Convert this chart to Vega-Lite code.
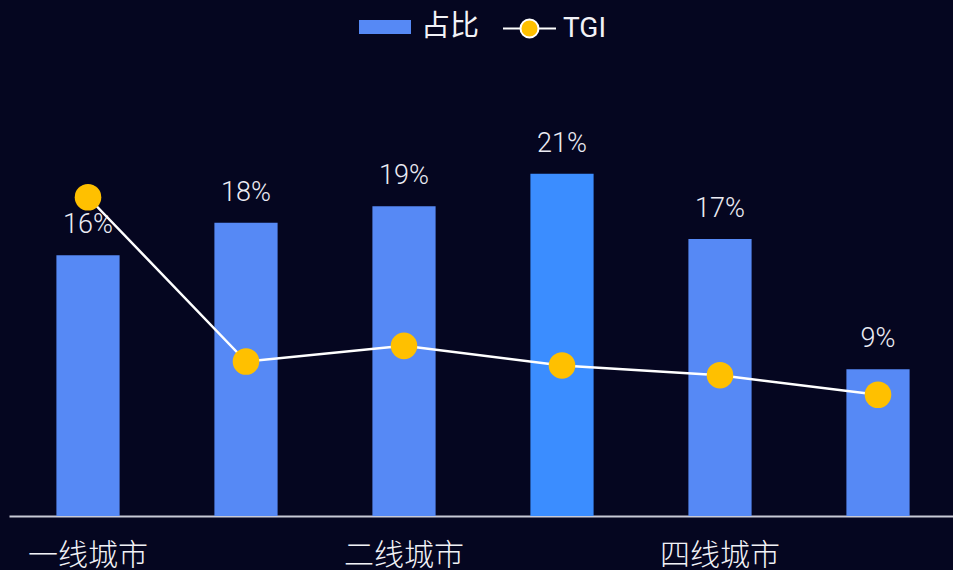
{
  "$schema": "https://vega.github.io/schema/vega-lite/v6.json",
  "width": 948,
  "height": 440,
  "padding": {"left": 9, "right": 0, "top": 1, "bottom": 0},
  "background": "#050620",
  "data": {
    "values": [
      {"city": "一线城市", "pct": 16, "tgi": 163},
      {"city": "新一线城市", "pct": 18, "tgi": 79},
      {"city": "二线城市", "pct": 19, "tgi": 87},
      {"city": "三线城市", "pct": 21, "tgi": 77},
      {"city": "四线城市", "pct": 17, "tgi": 72},
      {"city": "五线城市", "pct": 9, "tgi": 62}
    ]
  },
  "encoding": {
    "x": {
      "field": "city",
      "type": "nominal",
      "sort": null,
      "scale": {"paddingInner": 0.6, "paddingOuter": 0.3},
      "axis": {
        "title": null,
        "labelAngle": 0,
        "ticks": false,
        "grid": false,
        "domainColor": "#c9cad6",
        "domainWidth": 2,
        "labelColor": "#f2f2f7",
        "labelFont": "Noto Sans CJK SC",
        "labelFontWeight": 300,
        "labelFontSize": 30,
        "labelPadding": 24,
        "labelOverlap": false,
        "labelExpr": "indexof(['一线城市','二线城市','四线城市'], datum.value) >= 0 ? datum.value : ''"
      }
    }
  },
  "layer": [
    {
      "mark": {"type": "bar", "opacity": 1},
      "encoding": {
        "y": {"field": "pct", "type": "quantitative", "scale": {"domain": [0, 27]}, "axis": null},
        "color": {
          "condition": {"test": "datum.city === '三线城市'", "value": "#3b8dff"},
          "datum": "占比",
          "scale": {"domain": ["占比"], "range": ["#5689f5"]},
          "legend": {
            "title": null,
            "orient": "top",
            "offset": 33,
            "symbolType": "M-1,-0.27H1V0.27H-1Z",
            "symbolSize": 2704,
            "symbolStrokeWidth": 0,
            "symbolOpacity": 1,
            "labelFont": "Noto Sans CJK SC",
            "labelFontSize": 29,
            "labelColor": "#f2f2f7",
            "labelOffset": 10
          }
        }
      }
    },
    {
      "transform": [{"calculate": "datum.pct + '%'", "as": "lbl"}],
      "mark": {"type": "text", "dy": -22, "baseline": "alphabetic", "font": "Roboto", "fontWeight": 300, "fontSize": 27, "color": "#ececf4"},
      "encoding": {
        "y": {"field": "pct", "type": "quantitative", "scale": {"domain": [0, 27]}, "axis": null},
        "text": {"field": "lbl"}
      }
    },
    {
      "layer": [
        {
          "mark": {"type": "line", "strokeWidth": 2.5},
          "encoding": {
            "y": {"field": "tgi", "type": "quantitative", "scale": {"domain": [0, 225]}, "axis": null},
            "stroke": {
              "datum": "TGI",
              "scale": {"domain": ["TGI"], "range": ["#ffffff"]},
              "legend": {
                "title": null,
                "orient": "top",
                "offset": 33,
                "labelFont": "Roboto",
                "labelFontSize": 28,
                "labelColor": "#f2f2f7",
                "labelOffset": 6,
                "encode": {
                  "symbols": {
                    "update": {
                      "shape": {"value": "M-1,0H-0.34M0.34,0H1M0.34,0A0.34,0.34,0,1,1,-0.34,0A0.34,0.34,0,1,1,0.34,0Z"},
                      "size": {"value": 2808},
                      "fill": {"value": "#ffc000"},
                      "stroke": {"value": "#ffffff"},
                      "strokeWidth": {"value": 2},
                      "opacity": {"value": 1}
                    }
                  }
                }
              }
            }
          }
        },
        {
          "mark": {"type": "point", "filled": true, "opacity": 1, "size": 707, "color": "#ffc000"},
          "encoding": {
            "y": {"field": "tgi", "type": "quantitative", "scale": {"domain": [0, 225]}, "axis": null}
          }
        }
      ]
    }
  ],
  "resolve": {"scale": {"y": "independent"}},
  "config": {
    "view": {"stroke": null},
    "legend": {"layout": {"top": {"anchor": "middle", "margin": 22}}}
  }
}
